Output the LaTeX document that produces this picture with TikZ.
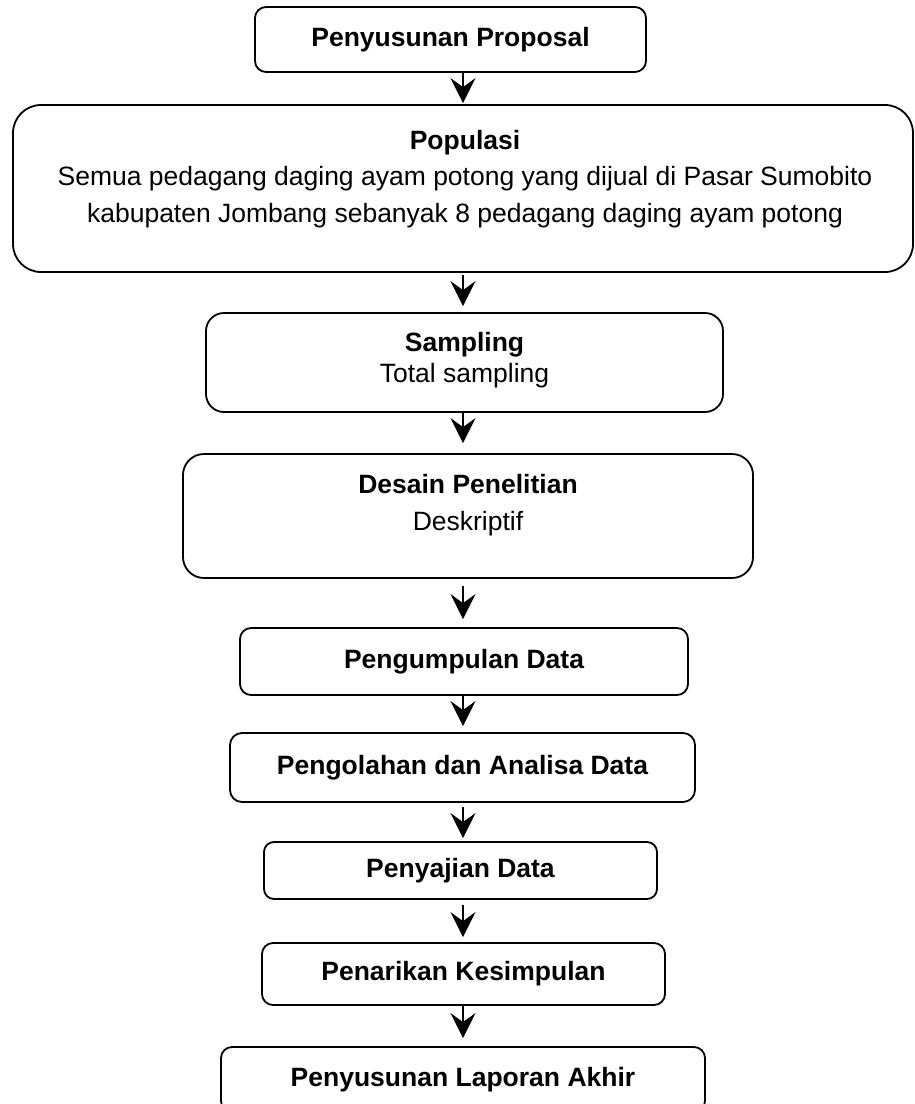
\documentclass[tikz,border=0pt]{standalone}
\usepackage{fontspec}
\setmainfont{Liberation Sans}
\usetikzlibrary{positioning,arrows.meta}

\begin{document}
\begin{tikzpicture}[x=1pt,y=-1pt,
                      box/.style={rectangle,draw,line width=1.8pt,inner sep=0pt,
                                  align=center,font=\bfseries\fontsize{26.5}{36.5}\selectfont},
                      txt/.style={inner sep=0pt,align=center,
                                  font=\fontsize{26.5}{36.5}\selectfont},
                      arr/.style={line width=2.2pt,
                                  -{Stealth[length=25pt,width=25pt,inset=9pt]}}]
    \useasboundingbox (0,0) rectangle (915,1104);
    \coordinate (axis) at (463,0);
    \node[box,minimum width=391pt,minimum height=65pt,rounded corners=11pt] (proposal) at (450.5,39.5) {Penyusunan Proposal};
    \node[box,minimum width=900pt,minimum height=167pt,rounded corners=28pt] (populasi) at (463,188.5) {};
    \node[txt] (populasitxt) at (465,179) {\textbf{Populasi}\\
      Semua pedagang daging ayam potong yang dijual di Pasar Sumobito\\
      kabupaten Jombang sebanyak 8 pedagang daging ayam potong};
    \node[box,minimum width=517pt,minimum height=99pt,rounded corners=18pt] (sampling) at (464.5,362.5) {};
    \node[txt,font=\fontsize{26.5}{31}\selectfont] (samplingtxt) at (464.5,360) {\textbf{Sampling}\\Total sampling};
    \node[box,minimum width=570pt,minimum height=124pt,rounded corners=21pt] (desain) at (468,516) {};
    \node[txt] (desaintxt) at (468,505) {\textbf{Desain Penelitian}\\Deskriptif};
    \node[box,minimum width=448pt,minimum height=67pt,rounded corners=11pt] (pengumpulan) at (464,661.5) {Pengumpulan Data};
    \node[box,minimum width=465pt,minimum height=69pt,rounded corners=12pt] (pengolahan) at (462.5,767.5) {Pengolahan dan Analisa Data};
    \node[box,minimum width=393pt,minimum height=57pt,rounded corners=10pt] (penyajian) at (460.5,870.5) {Penyajian Data};
    \node[box,minimum width=403pt,minimum height=62pt,rounded corners=11pt] (penarikan) at (463.5,974) {Penarikan Kesimpulan};
    \node[box,minimum width=484pt,minimum height=65pt,rounded corners=11pt] (laporan) at (463,1079.5) {Penyusunan Laporan Akhir};
    \foreach \a/\b/\s/\e in {proposal/populasi/0/1,populasi/sampling/2/6,sampling/desain/0/10,
                             desain/pengumpulan/7/8,pengumpulan/pengolahan/0/6,
                             pengolahan/penyajian/4/3,penyajian/penarikan/5/5,penarikan/laporan/0/8}
      \draw[arr,shorten <=\s pt,shorten >=\e pt] (\a.south -| axis) -- (\b.north -| axis);
  \end{tikzpicture}
\end{document}
